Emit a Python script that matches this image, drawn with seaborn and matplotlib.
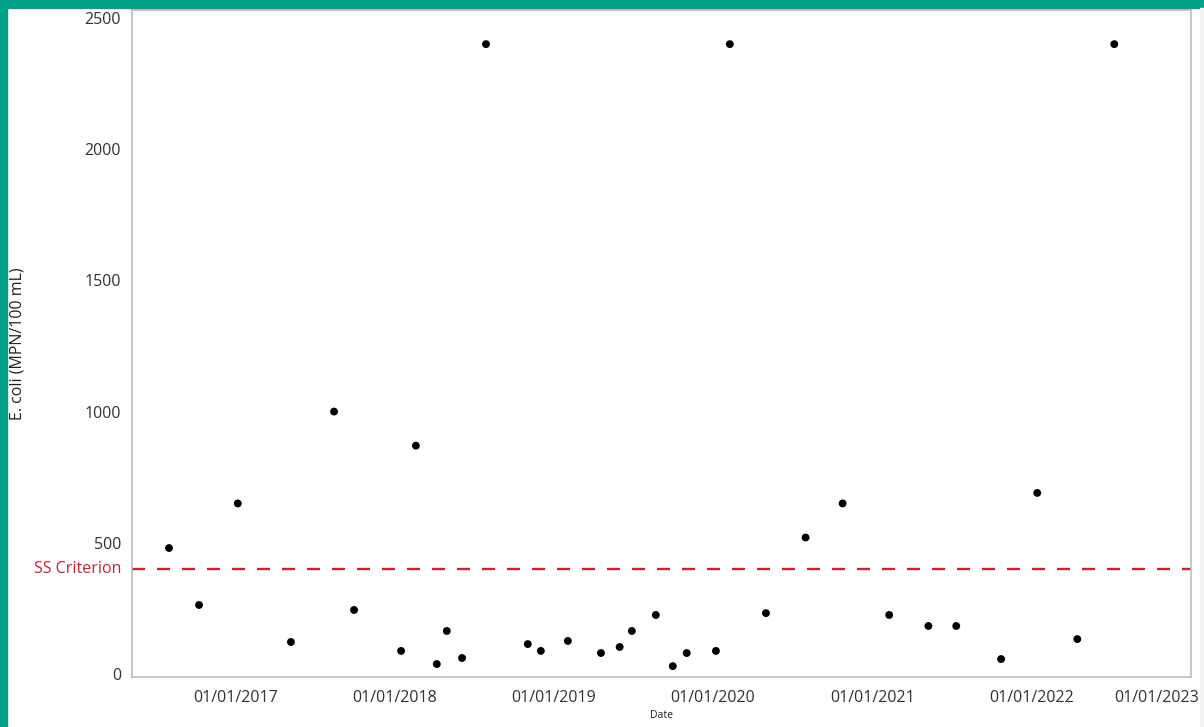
import matplotlib
matplotlib.use("Agg")
import matplotlib.pyplot as plt
import matplotlib.dates as mdates
import matplotlib.patches as mpatches
import matplotlib.transforms as mtransforms
import pandas as pd
import seaborn as sns

# Sample dates and E. coli results (MPN/100 mL)
sample_dates = [
    "2016-07-31", "2016-10-08", "2017-01-05", "2017-05-07", "2017-08-14",
    "2017-09-29", "2018-01-15", "2018-02-18", "2018-04-07", "2018-04-30",
    "2018-06-04", "2018-07-29", "2018-11-02", "2018-12-02", "2019-02-02",
    "2019-04-19", "2019-06-01", "2019-06-29", "2019-08-23", "2019-10-01",
    "2019-11-02", "2020-01-08", "2020-02-09", "2020-05-02", "2020-08-01",
    "2020-10-25", "2021-02-09", "2021-05-10", "2021-07-13", "2021-10-24",
    "2022-01-15", "2022-04-17", "2022-07-11",
]
ecoli_values = [
    480, 263, 650, 122, 1000,
    244, 88, 870, 38, 164,
    61, 2400, 114, 88, 126,
    80, 103, 164, 225, 30,
    80, 88, 2400, 232, 520,
    650, 225, 183, 183, 57,
    690, 133, 2400,
]
criterion_value = 400
criterion_label = "SS Criterion"
y_ticks = [0, 500, 1000, 1500, 2000, 2500]
x_tick_dates = ["2017-01-01", "2018-01-01", "2019-01-01", "2020-01-01",
                "2021-01-01", "2022-01-01", "2023-01-01"]

df = pd.DataFrame({"Date": pd.to_datetime(sample_dates), "E. coli": ecoli_values})

sns.set_style("white")
plt.rcParams["font.family"] = ["Open Sans", "DejaVu Sans"]

W, H = 1204, 727
fig = plt.figure(figsize=(W / 100, H / 100), dpi=100)
fig.patch.set_facecolor("white")

# Frame decoration: teal band on the left and top, pale strip on the right
teal = "#00a28a"
fig.patches.append(mpatches.Rectangle((0, 0), 7 / W, 1, transform=fig.transFigure,
                                      color=teal, zorder=0))
fig.patches.append(mpatches.Rectangle((0, 1 - 7.5 / H), 1, 7.5 / H, transform=fig.transFigure,
                                      color=teal, zorder=0))
fig.patches.append(mpatches.Rectangle((1200 / W, 0), 4 / W, 1 - 7.5 / H, transform=fig.transFigure,
                                      color="#f2f2f2", zorder=0))

left, right, top, bottom = 132, 1190.5, 9.5, 677
ax = fig.add_axes([left / W, 1 - bottom / H, (right - left) / W, (bottom - top) / H])

sns.scatterplot(data=df, x="Date", y="E. coli", ax=ax, color="black",
                s=32, edgecolor="none", zorder=3)

ax.axhline(criterion_value, color="#d0202e", lw=1.7,
           linestyle=(0, (13 * 0.72 / 1.7, 12 * 0.72 / 1.7)), zorder=2)

ax.set_xlim(pd.Timestamp("2016-05-07"), pd.Timestamp("2023-01-02"))
ax.set_ylim(-11.4, 2532)

ax.set_xticks(pd.to_datetime(x_tick_dates))
ax.xaxis.set_major_formatter(mdates.DateFormatter("%d/%m/%Y"))
ax.set_yticks(y_ticks)

tick_col = "#30303a"
ax.tick_params(axis="both", which="major", direction="out", length=5, width=1,
               color="#a8a8a8", labelsize=11.5, labelcolor=tick_col, pad=3)
ax.tick_params(axis="x", pad=4)

# Keep the last date label inside the figure by right-aligning it near the edge
fig.canvas.draw()
last_lbl = ax.get_xticklabels()[-1]
last_lbl.set_horizontalalignment("right")
last_lbl.set_transform(last_lbl.get_transform() +
                       mtransforms.ScaledTranslation(9 / 100, 0, fig.dpi_scale_trans))

for side in ["left", "right", "top", "bottom"]:
    ax.spines[side].set_visible(True)
    ax.spines[side].set_color("#bdbdbd")
    ax.spines[side].set_linewidth(1.2)

ax.set_xlabel("Date", fontsize=7.5, color="#222222", labelpad=3)
ax.set_ylabel("E. coli (MPN/100 mL)", fontsize=11.5, color="#222222")
ax.yaxis.set_label_coords((26 - left) / (right - left), 0.5)

# Criterion label placed beside the axis like a tick label
ax.annotate(criterion_label, xy=(0, criterion_value), xycoords=("axes fraction", "data"),
            xytext=(-7.5, 0), textcoords="offset points", ha="right", va="center",
            fontsize=11.5, color="#d0202e")

fig.savefig("out.png", dpi=100)
